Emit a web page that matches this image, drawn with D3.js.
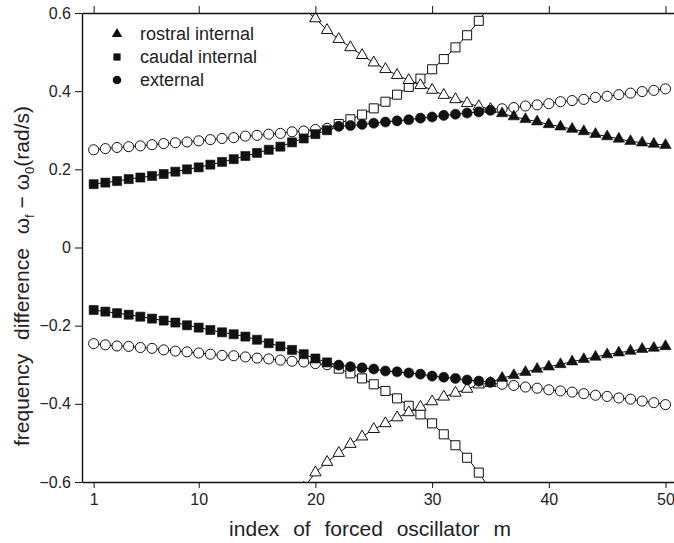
<!DOCTYPE html>
<html>
<head>
<meta charset="utf-8">
<script src="https://cdn.jsdelivr.net/npm/d3@7"></script>
<style>
  html, body { margin: 0; padding: 0; background: #fff; }
  svg { display: block; font-family: "Liberation Sans", Arial, sans-serif; }
</style>
</head>
<body>
<svg id="chart" width="674" height="543"></svg>
<script>
// Frequency difference of the forced oscillator vs its index m.
// Each branch is a list of segments; a segment is drawn with one marker kind
// and starts at index `start`. Consecutive segments of a branch share one line.

const xTicks = [1, 10, 20, 30, 40, 50];
const yTicks = [-0.6, -0.4, -0.2, 0, 0.2, 0.4, 0.6];

const legendLabels = ["rostral internal", "caudal internal", "external"];

// upper half
const caudalUpper      = [0.162, 0.166, 0.170, 0.175, 0.179, 0.183, 0.188, 0.194, 0.200, 0.205, 0.212,
                          0.219, 0.226, 0.234, 0.242, 0.250, 0.258, 0.269, 0.279, 0.290, 0.300];       // m 1-21
const externalUpper    = [0.310, 0.312, 0.315, 0.318, 0.321, 0.324, 0.327, 0.331, 0.334, 0.338, 0.341,
                          0.344, 0.347, 0.351];                                                         // m 22-35
const rostralUpper     = [0.343, 0.335, 0.328, 0.322, 0.315, 0.309, 0.303, 0.297, 0.290, 0.284, 0.278,
                          0.272, 0.268, 0.265, 0.262];                                                  // m 36-50
const openCircleUpperA = [0.250, 0.253, 0.256, 0.258, 0.260, 0.263, 0.266, 0.268, 0.270, 0.273, 0.276,
                          0.279, 0.281, 0.285, 0.287, 0.290, 0.292, 0.296, 0.298, 0.302, 0.305];       // m 1-21
const openSquareUpper  = [0.316, 0.328, 0.340, 0.356, 0.373, 0.391, 0.411, 0.432, 0.456, 0.482, 0.512,
                          0.543, 0.580, 0.622];                                                         // m 22-35
const openTriUpper     = [0.611, 0.586, 0.556, 0.533, 0.512, 0.492, 0.473, 0.456, 0.441, 0.428, 0.415,
                          0.403, 0.390, 0.379, 0.369, 0.361, 0.354];                                    // m 19-35
const openCircleUpperB = [0.355, 0.358, 0.362, 0.365, 0.368, 0.373, 0.376, 0.379, 0.384, 0.387, 0.391,
                          0.395, 0.399, 0.402, 0.406];                                                  // m 36-50

// lower half
const caudalLower      = [-0.160, -0.164, -0.168, -0.172, -0.177, -0.182, -0.187, -0.192, -0.199, -0.205, -0.211,
                          -0.217, -0.222, -0.228, -0.236, -0.245, -0.253, -0.262, -0.273, -0.284, -0.294];
const externalLower    = [-0.301, -0.305, -0.308, -0.311, -0.316, -0.318, -0.321, -0.324, -0.329, -0.332, -0.335,
                          -0.339, -0.342, -0.345];
const rostralLower     = [-0.334, -0.327, -0.319, -0.311, -0.305, -0.299, -0.292, -0.286, -0.280, -0.274, -0.269,
                          -0.265, -0.260, -0.257, -0.253];
const openCircleLowerA = [-0.246, -0.249, -0.252, -0.253, -0.256, -0.258, -0.262, -0.265, -0.267, -0.270, -0.273,
                          -0.276, -0.277, -0.280, -0.283, -0.285, -0.288, -0.291, -0.293, -0.297, -0.300];
const openSquareLower  = [-0.310, -0.322, -0.335, -0.350, -0.367, -0.386, -0.405, -0.427, -0.450, -0.478, -0.506,
                          -0.538, -0.576, -0.620];
const openTriLower     = [-0.615, -0.576, -0.549, -0.526, -0.503, -0.484, -0.465, -0.450, -0.435, -0.422, -0.408,
                          -0.394, -0.382, -0.372, -0.362, -0.351, -0.347];
const openCircleLowerB = [-0.350, -0.353, -0.357, -0.360, -0.364, -0.367, -0.370, -0.374, -0.378, -0.381, -0.385,
                          -0.388, -0.393, -0.397, -0.402];

const branches = [
  [{ start: 1,  kind: "square",   filled: true,  v: caudalUpper },
   { start: 22, kind: "circle",   filled: true,  v: externalUpper },
   { start: 36, kind: "triangle", filled: true,  v: rostralUpper }],
  [{ start: 1,  kind: "circle",   filled: false, v: openCircleUpperA },
   { start: 22, kind: "square",   filled: false, v: openSquareUpper }],
  [{ start: 19, kind: "triangle", filled: false, v: openTriUpper },
   { start: 36, kind: "circle",   filled: false, v: openCircleUpperB }],
  [{ start: 1,  kind: "square",   filled: true,  v: caudalLower },
   { start: 22, kind: "circle",   filled: true,  v: externalLower },
   { start: 36, kind: "triangle", filled: true,  v: rostralLower }],
  [{ start: 1,  kind: "circle",   filled: false, v: openCircleLowerA },
   { start: 22, kind: "square",   filled: false, v: openSquareLower }],
  [{ start: 19, kind: "triangle", filled: false, v: openTriLower },
   { start: 36, kind: "circle",   filled: false, v: openCircleLowerB }],
];

const svg = d3.select("#chart");
const ink = "#111";

const x = d3.scaleLinear().domain([0, 52]).range([82, 82 + 52 * 11.67]);
const y = d3.scaleLinear().domain([-0.6, 0.6]).range([482, 13]);

const symbolSize = { circle: 80, square: 82, triangle: 56 };
const symbolType = { circle: d3.symbolCircle, square: d3.symbolSquare, triangle: d3.symbolTriangle };

svg.append("clipPath").attr("id", "plot-clip")
  .append("rect")
  .attr("x", x(0)).attr("y", y(0.6))
  .attr("width", x(52) - x(0)).attr("height", y(-0.6) - y(0.6));

const plot = svg.append("g").attr("clip-path", "url(#plot-clip)");

// connecting lines, one per branch
const line = d3.line().x(d => x(d.m)).y(d => y(d.v));
const branchPoints = branches.map(segs =>
  segs.flatMap(s => s.v.map((v, i) => ({ m: s.start + i, v, kind: s.kind, filled: s.filled }))));

plot.selectAll("path.branch")
  .data(branchPoints)
  .join("path")
  .attr("class", "branch")
  .attr("d", line)
  .attr("fill", "none")
  .attr("stroke", ink)
  .attr("stroke-width", 1);

// open markers below, filled markers on top
const allPoints = branchPoints.flat();
const ordered = allPoints.filter(d => !d.filled).concat(allPoints.filter(d => d.filled));

plot.selectAll("path.mark")
  .data(ordered)
  .join("path")
  .attr("class", "mark")
  .attr("transform", d => `translate(${x(d.m)},${y(d.v)})`)
  .attr("d", d => d3.symbol(symbolType[d.kind], symbolSize[d.kind])())
  .attr("fill", d => d.filled ? ink : "#fff")
  .attr("stroke", ink)
  .attr("stroke-width", d => d.filled ? 0.6 : 1);

// axes
const fmtY = d => d === 0 ? "0" : d3.format(".1f")(d);

const gx = svg.append("g")
  .attr("transform", `translate(0,${y(-0.6)})`)
  .call(d3.axisBottom(x).tickValues(xTicks).tickSize(6).tickSizeOuter(0).tickPadding(6));

const gTop = svg.append("g")
  .attr("transform", `translate(0,${y(0.6)})`)
  .call(d3.axisTop(x).tickValues(xTicks).tickSize(7).tickSizeOuter(0).tickFormat(""));

const gy = svg.append("g")
  .attr("transform", `translate(${x(0)},0)`)
  .call(d3.axisLeft(y).tickValues(yTicks).tickSize(7).tickSizeOuter(0).tickPadding(4).tickFormat(fmtY));

for (const g of [gx, gTop, gy]) {
  g.select(".domain").attr("stroke", ink).attr("stroke-width", 1.4);
  g.selectAll(".tick line").attr("stroke", ink).attr("stroke-width", 1);
  g.selectAll(".tick text")
    .attr("fill", "#222")
    .style("font-family", "'Liberation Sans', Arial, sans-serif")
    .style("font-size", "16px");
}

// axis titles
svg.append("text")
  .attr("x", 370).attr("y", 536)
  .attr("text-anchor", "middle")
  .style("font-size", "21px")
  .style("word-spacing", "8px")
  .attr("fill", "#222")
  .text("index of forced oscillator m");

const yTitle = svg.append("text")
  .attr("transform", "translate(29,276) rotate(-90)")
  .attr("text-anchor", "middle")
  .style("font-size", "21px")
  .attr("fill", "#222");
yTitle.append("tspan").style("word-spacing", "8px").text("frequency difference ω");
yTitle.append("tspan").attr("dy", 5).style("font-size", "13px").text("f");
yTitle.append("tspan").attr("dy", -5).text(" − ω");
yTitle.append("tspan").attr("dy", 5).style("font-size", "13px").text("0");
yTitle.append("tspan").attr("dy", -5).text("(rad/s)");

// legend
const legendKinds = ["triangle", "square", "circle"];
const legendSizes = { triangle: 48, square: 52, circle: 58 };
const legend = svg.append("g");
legend.selectAll("path")
  .data(legendKinds)
  .join("path")
  .attr("transform", (d, i) => `translate(117,${34 + i * 23})`)
  .attr("d", d => d3.symbol(symbolType[d], legendSizes[d])())
  .attr("fill", ink);
legend.selectAll("text")
  .data(legendLabels)
  .join("text")
  .attr("x", 140)
  .attr("y", (d, i) => 34 + i * 23)
  .attr("dy", "0.36em")
  .style("font-size", "18px")
  .attr("fill", "#222")
  .text(d => d);
</script>
</body>
</html>
